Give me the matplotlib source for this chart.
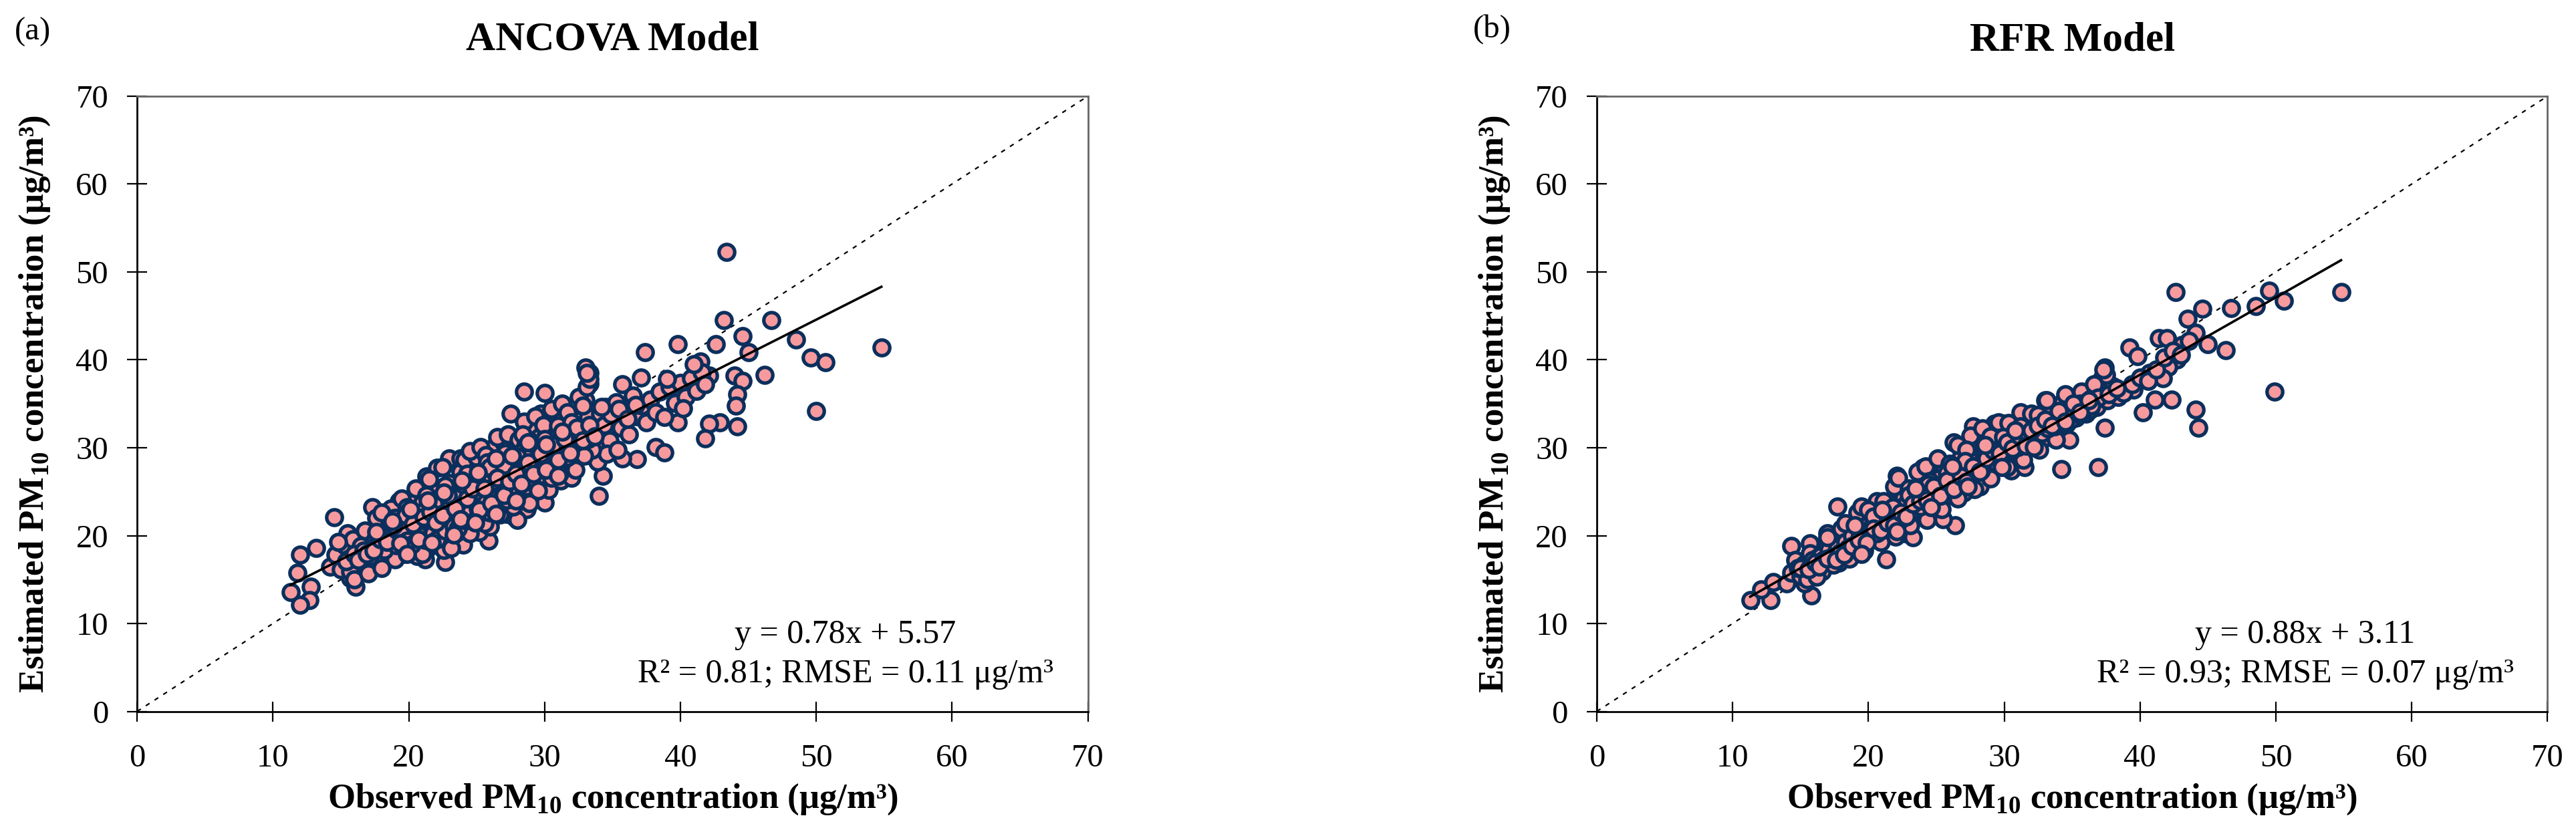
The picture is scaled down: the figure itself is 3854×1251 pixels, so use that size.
import numpy as np
import matplotlib
matplotlib.use('Agg')
import matplotlib.pyplot as plt

plt.rcParams['font.family'] = ['Liberation Serif', 'DejaVu Serif']
plt.rcParams['mathtext.fontset'] = 'custom'
plt.rcParams['mathtext.rm'] = 'Liberation Serif'
plt.rcParams['mathtext.bf'] = 'Liberation Serif:bold'

# ANCOVA model: observed vs estimated PM10
pts_a = np.array([
    # outliers / sparse points
    (43.4, 52.3), (43.2, 44.5), (46.7, 44.5), (44.6, 42.7), (48.5, 42.3), (49.6, 40.3),
    (50.7, 39.7), (54.8, 41.4), (45.0, 40.9), (42.6, 41.8), (41.5, 39.8), (42.1, 38.2),
    (46.2, 38.3), (44.0, 38.2), (44.6, 37.6), (44.2, 36.1), (44.1, 34.8), (44.2, 32.4),
    (42.9, 32.9), (42.1, 32.7), (41.8, 31.1), (50.0, 34.2), (39.8, 41.8), (37.4, 40.9),
    (37.1, 38.0), (35.7, 37.2), (39.8, 32.9), (38.2, 30.1), (38.8, 29.5), (36.8, 28.7),
    (35.7, 28.8), (34.3, 26.8), (34.0, 24.5), (33.3, 38.5), (33.3, 37.3), (28.5, 36.4),
    (30.0, 36.2), (27.5, 33.9), (29.7, 33.9), (28.7, 32.4), (29.8, 24.2), (28.7, 23.0),
    (27.8, 22.1), (25.9, 19.4), (22.7, 17.0), (21.2, 17.3), (14.5, 22.1), (17.3, 23.2),
    (19.3, 23.9), (20.4, 23.9), (21.3, 26.7), (22.1, 27.7), (13.2, 18.6), (12.0, 17.8),
    (11.8, 15.8), (11.3, 13.6), (12.8, 14.2), (12.7, 12.7), (12.0, 12.1), (16.1, 14.2),
    (15.7, 15.2), (15.5, 20.3), (17.1, 18.4), (23.0, 28.8), (23.8, 28.8), (25.0, 29.1),
    (26.2, 30.0), (33.0, 39.1),
    # dense band
    (14.2, 16.5), (14.6, 17.8), (15.0, 16.2), (15.3, 18.9), (15.6, 17.4), (15.9, 19.6),
    (16.2, 16.8), (16.4, 18.2), (14.8, 19.3), (15.7, 15.9),
    (16.6, 17.5), (16.9, 19.1), (17.2, 16.3), (17.4, 20.4), (17.7, 18.0), (17.9, 21.3),
    (16.8, 20.6), (17.3, 17.0), (18.0, 19.2), (17.6, 22.0),
    (18.2, 17.3), (18.4, 20.0), (18.6, 21.8), (18.9, 18.5), (19.1, 22.6), (19.3, 19.6),
    (19.6, 17.9), (19.8, 21.0), (18.7, 23.1), (19.5, 24.2), (20.0, 18.8), (18.3, 18.9),
    (20.2, 20.5), (20.4, 22.3), (20.6, 17.7), (20.8, 19.4), (21.0, 23.8), (21.2, 21.5),
    (21.4, 18.6), (21.6, 20.2), (21.8, 25.0), (22.0, 22.7), (20.5, 25.4), (21.5, 26.4),
    (22.0, 19.0), (20.9, 21.1), (21.7, 23.2),
    (22.2, 20.8), (22.4, 24.1), (22.6, 18.4), (22.8, 22.0), (23.0, 26.0), (23.2, 21.3),
    (23.4, 19.7), (23.6, 23.5), (23.8, 27.3), (24.0, 22.4), (22.5, 27.8), (23.5, 25.1),
    (24.0, 19.0), (22.9, 23.9), (23.7, 20.5), (24.1, 28.6),
    (24.2, 24.6), (24.4, 21.5), (24.6, 26.4), (24.8, 23.0), (25.0, 28.9), (25.2, 20.4),
    (25.4, 25.7), (25.6, 27.6), (25.8, 22.2), (26.0, 24.9), (24.5, 29.6), (25.3, 30.1),
    (26.0, 21.0), (25.1, 23.8), (24.9, 26.9), (25.7, 29.2),
    (26.2, 26.2), (26.4, 23.6), (26.6, 28.3), (26.8, 25.1), (27.0, 30.5), (27.2, 22.5),
    (27.4, 27.4), (27.6, 29.6), (27.8, 24.2), (28.0, 26.8), (26.5, 31.2), (27.3, 31.5),
    (28.0, 21.8), (26.9, 27.9), (27.5, 25.6), (28.1, 30.9),
    (28.2, 28.1), (28.4, 25.3), (28.6, 30.2), (28.8, 27.0), (29.0, 32.0), (29.2, 24.6),
    (29.4, 29.1), (29.6, 31.2), (29.8, 26.1), (30.0, 28.5), (28.5, 33.0), (29.3, 33.6),
    (30.0, 23.8), (28.9, 29.8), (29.5, 27.5), (30.1, 31.9),
    (30.2, 29.7), (30.4, 27.2), (30.6, 31.8), (30.8, 28.4), (31.0, 33.4), (31.2, 26.3),
    (31.4, 30.6), (31.6, 32.5), (31.8, 28.0), (32.0, 30.2), (30.5, 34.4), (31.3, 35.0),
    (32.0, 26.6), (30.9, 30.0), (31.5, 29.0), (32.1, 33.7),
    (32.2, 31.4), (32.4, 28.9), (32.6, 33.1), (32.8, 30.0), (33.0, 35.4), (33.2, 29.2),
    (33.4, 32.2), (33.6, 34.0), (33.8, 30.6), (34.0, 33.0), (32.5, 35.8), (33.1, 36.9),
    (33.3, 37.8), (33.1, 38.5), (33.9, 28.4),
    (34.2, 32.0), (34.5, 34.6), (34.8, 30.8), (35.0, 33.2), (35.3, 35.2), (35.6, 32.3),
    (35.9, 34.4), (36.2, 31.5), (36.5, 35.9), (36.8, 33.6), (37.2, 34.8), (37.5, 32.9),
    (37.8, 35.5), (38.2, 34.0), (38.5, 36.4), (34.6, 29.3), (35.4, 29.8),
    (38.8, 33.5), (39.2, 36.9), (39.6, 35.1), (40.0, 37.4), (40.4, 35.8), (40.8, 37.9),
    (41.2, 36.5), (41.6, 38.6), (40.2, 34.5), (41.0, 39.5), (41.8, 37.2), (39.0, 37.8),
    # core, close to the fit line
    (17.0, 18.6), (17.5, 19.5), (18.1, 20.1), (18.5, 19.0), (18.8, 20.7), (19.2, 20.3),
    (19.4, 21.5), (19.7, 19.8), (20.1, 21.6), (20.3, 20.0), (20.7, 21.9), (21.1, 20.6),
    (21.3, 22.6), (21.6, 21.4), (21.9, 23.4), (22.1, 21.2), (22.3, 22.9), (22.7, 21.6),
    (22.9, 23.2), (23.1, 22.6), (23.3, 24.4), (23.6, 22.1), (23.9, 24.8), (24.1, 23.4),
    (24.3, 25.7), (24.6, 24.0), (24.8, 25.0), (25.1, 24.2), (25.3, 26.4), (25.5, 24.6),
    (25.8, 26.0), (26.1, 25.4), (26.3, 27.3), (26.6, 25.8), (26.9, 26.8), (27.1, 25.9),
    (27.3, 28.3), (27.6, 26.5), (27.9, 28.0), (28.1, 27.2), (28.3, 29.5), (28.6, 27.6),
    (28.9, 28.9), (29.1, 28.2), (29.3, 30.3), (29.6, 28.6), (29.9, 29.9), (30.1, 29.0),
    (30.3, 31.0), (30.6, 29.5), (30.9, 31.4), (31.1, 30.1), (31.3, 32.0), (31.7, 30.9),
    (31.9, 32.1), (32.3, 31.0), (32.6, 32.2), (32.9, 31.4), (33.2, 33.5), (33.6, 32.4),
    (34.1, 33.9), (34.4, 32.6), (34.9, 33.8), (35.5, 34.4), (36.1, 33.3), (36.7, 34.9),
    (16.5, 18.8), (17.8, 17.6), (19.0, 17.3), (20.3, 18.5), (21.0, 17.9), (22.4, 19.8),
    (23.1, 18.6), (24.5, 20.3), (25.6, 21.4), (26.7, 22.4), (27.7, 23.3), (28.9, 23.7),
    (30.3, 25.2), (31.1, 27.0), (32.3, 27.5), (33.5, 29.8), (18.0, 22.6), (19.9, 23.2),
    (21.3, 24.6), (22.7, 25.7), (24.3, 27.0), (25.8, 28.3), (27.1, 29.4), (28.4, 31.5),
    (29.9, 32.6), (31.7, 34.0), (32.8, 34.8),
    (15.4, 17.1), (16.0, 17.9), (16.7, 18.3), (17.1, 17.6), (17.6, 18.9), (18.2, 18.4),
    (18.6, 19.8), (19.1, 18.9), (19.5, 20.6), (19.9, 19.4), (20.2, 19.0), (20.5, 20.9),
    (20.9, 20.0), (21.2, 19.5), (21.5, 21.9), (21.8, 20.3), (22.1, 19.6), (22.4, 21.5),
    (22.7, 20.6), (23.0, 22.2), (23.3, 21.0), (23.6, 20.8), (23.9, 22.9), (24.2, 21.7),
    (24.5, 22.6), (24.8, 21.6), (25.1, 23.1), (25.4, 22.7), (25.7, 23.8), (26.0, 22.6),
    (26.3, 24.4), (26.6, 23.2), (26.9, 24.9), (27.2, 24.1), (27.5, 24.6), (27.8, 25.8),
    (28.1, 24.9), (28.4, 26.4), (28.7, 25.6), (29.0, 26.9), (29.3, 25.8), (29.6, 27.3),
    (29.9, 26.9), (30.2, 27.9), (30.5, 26.6), (30.8, 28.9), (31.1, 28.4), (31.4, 29.6),
    (31.7, 28.9), (32.0, 29.6), (32.3, 29.9), (32.6, 30.8), (32.9, 29.1), (33.2, 31.0),
    (19.0, 22.0), (20.0, 22.8), (21.0, 22.7), (22.0, 24.1), (23.0, 24.0), (24.0, 25.8),
    (25.0, 26.1), (26.0, 27.8), (27.0, 28.0), (28.0, 29.0), (29.0, 30.7), (30.0, 31.0),
    (31.0, 32.5), (32.0, 32.9), (16.0, 15.0), (17.0, 15.7), (18.0, 16.3),
    (16.3, 17.2), (16.9, 17.9), (17.4, 18.3), (17.9, 19.6), (18.4, 19.3), (18.9, 21.2),
    (19.4, 19.1), (19.8, 22.3), (20.3, 21.3), (20.7, 19.6), (21.1, 22.1), (21.6, 22.7),
    (22.0, 21.5), (22.5, 22.3), (22.9, 24.6), (23.4, 23.1), (23.8, 21.9), (24.3, 24.2),
    (24.7, 25.4), (25.2, 22.9), (25.6, 25.4), (26.1, 23.7), (26.5, 26.6), (27.0, 24.6),
    (27.4, 26.2), (27.9, 27.0), (28.3, 25.9), (28.8, 28.3), (29.2, 27.0), (29.7, 29.3),
    (30.1, 27.5), (30.6, 30.3), (31.0, 28.6), (31.5, 31.0), (31.9, 29.4), (32.4, 32.3),
    (32.8, 30.8), (33.3, 32.6), (33.7, 31.3), (34.2, 34.6), (20.1, 23.0), (21.4, 24.0),
    (22.6, 24.9), (23.9, 26.3), (25.1, 27.2), (26.4, 28.8), (27.6, 29.1), (28.8, 30.6),
    (30.1, 30.4), (31.3, 31.8), (17.6, 20.4), (18.8, 21.6), (19.9, 17.9), (21.7, 19.2),
    (23.3, 20.1), (24.9, 21.5), (26.4, 22.5), (27.9, 24.0), (29.5, 25.1), (31.0, 26.8),
])

# RFR model
pts_b = np.array([
    # outliers / sparse points
    (42.6, 47.7), (49.5, 47.9), (54.8, 47.7), (50.6, 46.7), (48.5, 46.1), (46.7, 45.9),
    (44.6, 45.8), (43.5, 44.7), (44.1, 43.1), (41.4, 42.5), (42.0, 42.5), (43.1, 41.7),
    (45.0, 41.8), (46.3, 41.1), (42.7, 40.0), (39.2, 41.4), (39.8, 40.4), (42.1, 39.2),
    (41.7, 37.9), (40.7, 38.5), (37.4, 39.1), (39.5, 36.6), (41.1, 35.5), (42.3, 35.5),
    (40.2, 34.0), (44.1, 34.3), (44.3, 32.3), (49.9, 36.4), (37.4, 32.3), (34.2, 27.6),
    (36.9, 27.8), (26.4, 21.2), (21.3, 17.3), (15.8, 13.2), (15.3, 14.6), (14.3, 18.8),
    (15.7, 19.1), (11.3, 12.7), (12.8, 12.7), (12.1, 13.9), (13.0, 14.7), (14.0, 14.6),
    (17.0, 20.3), (17.7, 23.3), (22.1, 26.8), (24.0, 27.7), (26.3, 30.6), (27.7, 32.4),
    (29.3, 32.7), (29.9, 32.7), (33.0, 35.4), (35.7, 36.4), (37.2, 37.9),
    # dense band
    (14.3, 15.8), (14.6, 17.2), (15.0, 15.4), (15.3, 16.8), (15.7, 18.0), (16.0, 16.1),
    (16.3, 17.5), (16.6, 15.9), (16.9, 18.6), (15.5, 15.0), (16.8, 17.0), (14.8, 16.3),
    (17.2, 17.8), (17.5, 19.3), (17.8, 16.9), (18.1, 18.4), (18.4, 20.1), (18.7, 17.8),
    (19.0, 19.6), (19.3, 21.4), (19.6, 18.5), (19.9, 20.4), (18.0, 20.8), (19.2, 22.6),
    (19.5, 23.3), (17.6, 18.1), (18.9, 19.0),
    (20.2, 19.6), (20.5, 21.2), (20.8, 22.5), (21.1, 19.8), (21.4, 21.9), (21.7, 23.6),
    (22.0, 20.9), (22.3, 22.4), (22.6, 24.3), (22.9, 21.7), (20.6, 23.9), (21.9, 25.6),
    (22.2, 26.6), (23.0, 23.1), (21.3, 20.7), (22.7, 20.3),
    (23.2, 22.5), (23.5, 24.2), (23.8, 25.8), (24.1, 22.9), (24.4, 24.9), (24.7, 26.6),
    (25.0, 23.8), (25.3, 25.7), (25.6, 27.6), (25.9, 24.6), (23.6, 27.3), (24.2, 27.9),
    (25.1, 28.8), (26.0, 26.4), (23.3, 19.8), (24.8, 22.4), (25.5, 21.9),
    (26.2, 25.6), (26.5, 27.3), (26.8, 28.9), (27.1, 25.9), (27.4, 27.9), (27.7, 29.7),
    (28.0, 26.8), (28.3, 28.6), (28.6, 30.5), (28.9, 27.5), (26.6, 30.3), (27.5, 31.4),
    (28.4, 32.2), (29.0, 29.4), (27.0, 24.9), (28.2, 25.6),
    (29.2, 28.2), (29.5, 30.0), (29.8, 31.7), (30.1, 28.6), (30.4, 30.4), (30.7, 32.3),
    (31.0, 29.3), (31.3, 31.1), (31.6, 33.0), (31.9, 30.0), (29.6, 32.9), (30.5, 27.4),
    (31.5, 27.8), (31.2, 34.0),
    (32.2, 31.5), (32.5, 33.2), (32.8, 30.9), (33.1, 32.6), (33.4, 34.5), (33.7, 31.8),
    (34.0, 33.6), (34.3, 35.2), (34.6, 32.7), (35.0, 34.1), (33.1, 35.4), (34.8, 30.9),
    (35.3, 33.4), (35.6, 35.0), (36.0, 33.9), (36.4, 35.6), (36.8, 34.6), (37.2, 36.5),
    (37.6, 35.4), (38.0, 37.0), (38.4, 35.8), (38.8, 36.2), (37.5, 38.3), (37.3, 38.9),
    (36.6, 37.2),
    (39.4, 37.2), (40.0, 38.0), (40.6, 37.6), (41.2, 38.9), (41.8, 40.3), (42.4, 41.0),
    (43.0, 40.6), (43.6, 42.2),
    # core, close to the fit line
    (15.2, 16.6), (15.9, 17.2), (16.5, 17.7), (17.1, 18.4), (17.7, 18.6), (18.3, 19.3),
    (18.8, 20.0), (19.4, 20.2), (19.8, 21.0), (20.3, 21.0), (20.7, 21.7), (21.2, 21.9),
    (21.6, 22.4), (22.1, 22.8), (22.5, 23.2), (22.8, 23.6), (23.4, 23.4), (23.7, 24.3),
    (24.0, 24.5), (24.3, 25.3), (24.6, 24.8), (25.0, 25.4), (25.2, 26.5), (25.7, 25.8),
    (26.1, 26.9), (26.4, 26.1), (26.7, 27.0), (27.0, 27.7), (27.3, 27.1), (27.6, 28.2),
    (27.9, 28.5), (28.2, 28.0), (28.5, 29.0), (28.8, 29.5), (29.1, 29.0), (29.4, 29.2),
    (29.7, 30.1), (30.0, 29.8), (30.3, 29.2), (30.6, 30.8), (30.9, 30.5), (31.2, 30.4),
    (31.5, 31.4), (31.8, 31.8), (32.1, 31.0), (32.4, 31.9), (32.7, 32.3), (33.0, 32.0),
    (33.5, 33.1), (33.9, 32.8), (34.4, 33.5), (34.9, 33.2), (35.4, 34.5), (35.9, 34.7),
    (36.3, 34.3), (36.9, 35.7), (37.7, 36.1), (38.3, 36.8), (16.2, 15.3), (17.4, 16.7),
    (18.6, 17.4), (19.7, 18.3), (20.9, 19.3), (22.0, 19.9), (23.1, 21.2), (24.3, 21.8),
    (25.4, 23.0), (26.6, 24.2), (27.8, 25.3), (29.0, 26.5), (30.2, 27.8), (31.4, 28.6),
    (32.6, 29.8), (33.8, 30.9), (17.0, 19.8), (18.3, 21.4), (20.0, 22.9), (21.1, 23.9),
    (23.0, 25.4), (24.5, 26.2), (26.0, 28.2), (27.2, 29.8), (29.0, 31.3), (30.3, 32.8),
    (32.0, 33.9), (34.5, 36.1),
    (15.0, 16.3), (15.6, 16.2), (16.1, 16.9), (16.7, 17.2), (17.3, 17.6), (17.9, 18.1),
    (18.5, 18.6), (19.1, 18.9), (19.6, 19.6), (20.1, 20.1), (20.6, 20.3), (21.0, 20.9),
    (21.5, 21.2), (21.9, 21.8), (22.4, 21.9), (22.9, 22.6), (23.3, 22.9), (23.8, 23.3),
    (24.2, 23.9), (24.7, 24.2), (25.1, 24.7), (25.6, 25.0), (26.0, 25.5), (26.5, 25.8),
    (26.9, 26.4), (27.4, 26.7), (27.8, 27.2), (28.3, 27.4), (28.7, 28.2), (29.2, 28.5),
    (29.6, 28.9), (30.1, 29.3), (30.5, 29.6), (31.0, 30.1), (31.4, 30.6), (31.9, 31.1),
    (32.3, 31.1), (32.8, 31.7), (33.2, 32.2), (33.7, 32.4), (34.2, 32.8), (34.7, 34.0),
    (35.2, 33.9), (35.8, 34.1), (36.4, 34.8), (20.4, 22.2), (21.8, 23.2), (23.0, 24.6),
    (24.4, 25.8), (25.8, 27.1), (27.1, 28.5), (28.5, 29.9), (29.9, 31.2), (31.2, 32.4),
    (32.5, 33.7),
    (16.4, 16.5), (17.0, 17.4), (17.6, 17.2), (18.2, 17.8), (18.8, 18.8), (19.3, 19.5),
    (19.9, 19.2), (20.4, 20.8), (20.9, 20.6), (21.4, 21.5), (21.9, 21.2), (22.4, 22.6),
    (22.8, 22.2), (23.3, 23.6), (23.8, 24.0), (24.3, 24.1), (24.8, 25.6), (25.3, 24.5),
    (25.8, 26.3), (26.3, 25.3), (26.8, 26.7), (27.2, 26.1), (27.7, 27.9), (28.2, 27.3),
    (28.7, 28.8), (29.2, 29.7), (29.7, 29.4), (30.2, 30.6), (30.6, 29.9), (31.1, 31.4),
    (31.6, 30.2), (32.0, 32.0), (32.5, 32.5), (33.0, 33.2), (33.5, 32.5), (34.0, 34.2),
    (34.5, 33.0), (35.1, 35.0), (35.6, 34.0), (36.2, 35.4), (19.0, 21.2), (21.0, 22.9),
    (23.5, 25.4), (26.2, 27.9), (28.6, 30.3), (30.8, 32.0), (19.5, 17.9), (22.1, 20.5),
    (24.6, 23.2), (27.3, 25.6), (29.8, 27.8), (32.2, 30.1),
])

titles = ['ANCOVA Model', 'RFR Model']
panel_tags = ['(a)', '(b)']
slopes = [0.78, 0.88]
intercepts = [5.57, 3.11]
r2_vals = ['0.81', '0.93']
rmse_vals = ['0.11', '0.07']
ticks = [0, 10, 20, 30, 40, 50, 60, 70]

fill_col = '#F79A9E'
edge_col = '#0B2F5C'

fig = plt.figure(figsize=(38.55, 12.51), dpi=100)
ax_a = fig.add_axes([0.0532, 0.149, 0.369, 0.736])
ax_b = fig.add_axes([0.6197, 0.149, 0.369, 0.736])
tag_pos = [(0.0127, 0.962), (0.579, 0.965)]

for i, (ax, pts) in enumerate(zip([ax_a, ax_b], [pts_a, pts_b])):
    obs, est = pts[:, 0], pts[:, 1]
    ax.plot([0, 70], [0, 70], ls=(0, (3, 4)), color='black', lw=1.6, zorder=1)
    ax.scatter(obs, est, s=285, c=fill_col, edgecolors=edge_col, linewidths=3.8, zorder=2)
    xf = np.array([obs.min(), obs.max()])
    ax.plot(xf, slopes[i] * xf + intercepts[i], color='black', lw=2.6, zorder=3)

    ax.set_xlim(0, 70)
    ax.set_ylim(0, 70)
    ax.set_xticks(ticks)
    ax.set_yticks(ticks)
    ax.tick_params(direction='inout', length=22, width=1.6, labelsize=35, pad=20)
    ax.tick_params(axis='x', pad=24)
    for side in ['top', 'right']:
        ax.spines[side].set_color('#666666')
        ax.spines[side].set_linewidth(2.0)
    for side in ['left', 'bottom']:
        ax.spines[side].set_color('black')
        ax.spines[side].set_linewidth(2.0)

    ax.set_xlabel(r'Observed PM$_{\mathbf{10}}$ concentration (μg/m³)', fontsize=38,
                  fontweight='bold')
    ax.set_ylabel(r'Estimated PM$_{\mathbf{10}}$ concentration (μg/m³)', fontsize=38,
                  fontweight='bold')
    ax.xaxis.set_label_coords(0.5, -0.143)
    ax.yaxis.set_label_coords(-0.1076, 0.5)
    ax.xaxis.label.set_va('center')
    ax.yaxis.label.set_va('center')

    ax.text(0.5, 1.091, titles[i], transform=ax.transAxes, ha='center', va='center',
            fontsize=44, fontweight='bold')
    ax.text(0.745, 0.125, f'y = {slopes[i]:.2f}x + {intercepts[i]:.2f}', transform=ax.transAxes,
            ha='center', va='center', fontsize=36)
    ax.text(0.745, 0.061, f'R² = {r2_vals[i]}; RMSE = {rmse_vals[i]} μg/m³', transform=ax.transAxes,
            ha='center', va='center', fontsize=36)
    fig.text(tag_pos[i][0], tag_pos[i][1], panel_tags[i], ha='center', va='center', fontsize=35)

fig.savefig('out.png', dpi=100)
